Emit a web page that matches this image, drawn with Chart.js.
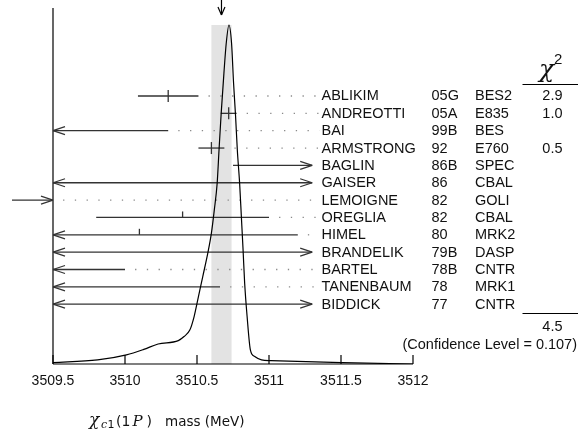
<!DOCTYPE html>
<html><head><meta charset="utf-8">
<script src="https://cdn.jsdelivr.net/npm/chart.js@4.4.1/dist/chart.umd.min.js"></script>
<style>html,body{margin:0;padding:0;background:#fff;}#wrap{width:581px;height:432px;position:relative;}</style>
</head><body><div id="wrap"><canvas id="c" width="581" height="432"></canvas></div>
<script>
// ---- data ----
const NAMES  = ['ABLIKIM','ANDREOTTI','BAI','ARMSTRONG','BAGLIN','GAISER','LEMOIGNE','OREGLIA','HIMEL','BRANDELIK','BARTEL','TANENBAUM','BIDDICK'];
const YEARS  = ['05G','05A','99B','92','86B','86','82','82','80','79B','78B','78','77'];
const EXPTS  = ['BES2','E835','BES','E760','SPEC','CBAL','GOLI','CBAL','MRK2','DASP','CNTR','MRK1','CNTR'];
const VALUES = [3510.30, 3510.72, 3509.0, 3510.60, 3511.30, 3512.3, 3507.4, 3510.4, 3510.1, 3507.0, 3507.0, 3507.4, 3512.0];
const ERRORS = [0.21, 0.055, 1.3, 0.09, 0.55, 4.0, 1.7, 0.6, 1.1, 4.5, 3.0, 3.26, 4.0];
const CHI2   = ['2.9','1.0','','0.5','','','','','','','','',''];
const CHI2_TOTAL = '4.5';
const CONF_LEVEL = '0.107';
const AVG = 3510.67, AVG_ERR = 0.07;
const X_TICKS = [3509.5, 3510, 3510.5, 3511, 3511.5, 3512];
const X_TICK_LABELS = ['3509.5','3510','3510.5','3511','3511.5','3512'];
// ideogram curve (relative height, peak = 1)
const CURVE_X = [3509.50,3509.81,3510.01,3510.13,3510.23,3510.37,3510.41,3510.45,3510.48,3510.51,3510.54,3510.575,3510.60,3510.62,3510.64,3510.653,3510.668,3510.687,3510.703,3510.722,3510.740,3510.754,3510.768,3510.780,3510.796,3510.808,3510.820,3510.831,3510.848,3510.871,3510.901,3510.948,3511.013,3511.511,3512.0];
const CURVE_H = [0.004,0.012,0.027,0.043,0.059,0.069,0.081,0.100,0.140,0.199,0.258,0.327,0.386,0.454,0.533,0.631,0.740,0.858,0.946,1.000,0.946,0.828,0.730,0.631,0.533,0.435,0.336,0.238,0.140,0.041,0.022,0.012,0.010,0.004,0.000];

// ---- layout constants ----
const X_MIN = 3509.5, X_MAX = 3512;
const RIGHT_LIMIT = 3511.30, LEADER_END = 3511.35, LEADER_GAP = 0.07;
const BAR_COLOR = '#333';
const TEXT_FONT = '14.5px "Liberation Sans", Arial, sans-serif';

const datasets = [];
datasets.push({
  type:'line', label:'ideogram', yAxisID:'yc',
  data: CURVE_X.map((x,i)=>({x:x, y:CURVE_H[i]})),
  borderColor:'#000', borderWidth:1.2, pointRadius:0, fill:false,
  cubicInterpolationMode:'monotone'
});
NAMES.forEach((n,i)=>{
  const lo = VALUES[i]-ERRORS[i], hi = VALUES[i]+ERRORS[i];
  if (hi > X_MIN) {
    datasets.push({type:'line', yAxisID:'yr', label:n,
      data:[{x:Math.max(lo,X_MIN), y:i},{x:Math.min(hi,RIGHT_LIMIT), y:i}],
      borderColor:BAR_COLOR, borderWidth:1.3, pointRadius:0, fill:false});
  }
  if (hi < RIGHT_LIMIT) {
    datasets.push({type:'line', yAxisID:'yr', label:n+' leader',
      data:[{x:Math.max(hi,X_MIN)+LEADER_GAP, y:i},{x:LEADER_END, y:i}],
      borderColor:'#8a8a8a', borderWidth:1.3, borderDash:[1.3,10.45], pointRadius:0, fill:false});
  }
});

function line(ctx,x1,y1,x2,y2){ctx.beginPath();ctx.moveTo(x1,y1);ctx.lineTo(x2,y2);ctx.stroke();}

const ideoPlugin = {
  id:'ideo',
  beforeDatasetsDraw(chart){
    const {ctx, scales:{x, yc}, chartArea:a} = chart;
    const x0 = x.getPixelForValue(AVG-AVG_ERR), x1 = x.getPixelForValue(AVG+AVG_ERR);
    const yTop = yc.getPixelForValue(1.0);
    ctx.save(); ctx.fillStyle='#e3e3e3'; ctx.fillRect(x0, yTop, x1-x0, a.bottom-yTop); ctx.restore();
  },
  afterDatasetsDraw(chart){
    const {ctx, scales:{x, yr}, chartArea:a} = chart;
    ctx.save();
    ctx.strokeStyle='#000'; ctx.lineWidth=1.2;
    // axes
    line(ctx, a.left, a.top, a.left, a.bottom);
    line(ctx, a.left, a.bottom, a.right, a.bottom);
    X_TICKS.forEach(v=>{ const px=x.getPixelForValue(v); line(ctx, px, a.bottom, px, a.bottom-9); });
    // average arrow at top
    const ax = x.getPixelForValue(AVG);
    line(ctx, ax, 0, ax, 15); line(ctx, ax-3.5, 7, ax, 15); line(ctx, ax+3.5, 7, ax, 15);
    // rows
    ctx.strokeStyle=BAR_COLOR; ctx.lineWidth=1.3;
    const leftPx = x.getPixelForValue(X_MIN), rightPx = x.getPixelForValue(RIGHT_LIMIT);
    NAMES.forEach((n,i)=>{
      const y = yr.getPixelForValue(i);
      const lo = VALUES[i]-ERRORS[i], hi = VALUES[i]+ERRORS[i];
      if (hi <= X_MIN) {
        line(ctx, leftPx-41, y, leftPx, y);
        line(ctx, leftPx-12, y-4, leftPx, y); line(ctx, leftPx-12, y+4, leftPx, y);
        return;
      }
      if (lo < X_MIN) { line(ctx, leftPx+12, y-4, leftPx, y); line(ctx, leftPx+12, y+4, leftPx, y); }
      if (hi > RIGHT_LIMIT) { line(ctx, rightPx-12, y-4, rightPx, y); line(ctx, rightPx-12, y+4, rightPx, y); }
      if (VALUES[i] > X_MIN && VALUES[i] < RIGHT_LIMIT) {
        const cx = x.getPixelForValue(VALUES[i]);
        if (CHI2[i] !== '') line(ctx, cx, y-6, cx, y+6); else line(ctx, cx, y-6, cx, y);
      }
    });
    // text columns
    ctx.fillStyle='#111'; ctx.font=TEXT_FONT; ctx.textBaseline='middle';
    NAMES.forEach((n,i)=>{
      const y = yr.getPixelForValue(i)+0.5;
      ctx.textAlign='left';
      ctx.fillText(n, 321.5, y);
      ctx.fillText(YEARS[i], 431.5, y);
      ctx.fillText(EXPTS[i], 475, y);
      ctx.textAlign='right';
      if (CHI2[i]) ctx.fillText(CHI2[i], 562.5, y);
    });
    // chi2 header
    ctx.strokeStyle='#000'; ctx.lineWidth=1;
    line(ctx, 522.5, 84.5, 578, 84.5);
    line(ctx, 522.5, 313.5, 578, 313.5);
    ctx.textAlign='center'; ctx.textBaseline='alphabetic';
    ctx.font='italic 25px "DejaVu Serif", serif';
    ctx.fillText('\u03C7', 546.5, 77);
    ctx.font='15px "Liberation Sans", Arial, sans-serif';
    ctx.textAlign='left';
    ctx.fillText('2', 554, 64);
    ctx.font=TEXT_FONT; ctx.textBaseline='middle'; ctx.textAlign='right';
    ctx.fillText(CHI2_TOTAL, 562.5, 326.5);
    ctx.fillText('(Confidence Level = ' + CONF_LEVEL + ')', 577, 344.5);
    // x tick labels
    ctx.font='14px "Liberation Sans", Arial, sans-serif'; ctx.textAlign='center'; ctx.textBaseline='middle';
    X_TICKS.forEach((v,i)=>{ ctx.fillText(X_TICK_LABELS[i], x.getPixelForValue(v), a.bottom+17.5); });
    // x axis title
    ctx.textAlign='left'; ctx.textBaseline='alphabetic';
    ctx.font='italic 17px "DejaVu Serif", serif'; ctx.fillText('\u03C7', 89, 425);
    ctx.font='italic 11px "DejaVu Serif", serif'; ctx.fillText('c', 101, 428);
    ctx.font='11px "DejaVu Sans", sans-serif'; ctx.fillText('1', 107.5, 428);
    ctx.font='14px "DejaVu Sans", sans-serif'; ctx.fillText('(1', 116, 426);
    ctx.font='italic 15px "DejaVu Serif", serif'; ctx.fillText('P', 132.5, 426);
    ctx.font='14px "DejaVu Sans", sans-serif'; ctx.fillText(')', 146.5, 426);
    ctx.font='13.5px "DejaVu Sans", sans-serif'; ctx.fillText('mass (MeV)', 165, 426);
    ctx.restore();
  }
};

new Chart(document.getElementById('c'), {
  data:{datasets:datasets},
  options:{
    responsive:false, animation:false, devicePixelRatio:1,
    layout:{padding:{left:53, right:168, top:8, bottom:48}},
    plugins:{legend:{display:false}, tooltip:{enabled:false}},
    scales:{
      x:{type:'linear', min:X_MIN, max:X_MAX,
        afterBuildTicks:(s)=>{ s.ticks = X_TICKS.map(v=>({value:v})); },
        afterFit:(s)=>{ s.height = 20; },
        ticks:{display:false},
        grid:{display:false, drawTicks:false}, border:{display:false}},
      yr:{type:'linear', display:false, min:-5.072, max:15.447, reverse:true},
      yc:{type:'linear', display:false, min:0, max:1.0501}
    }
  },
  plugins:[ideoPlugin]
});
</script></body></html>
